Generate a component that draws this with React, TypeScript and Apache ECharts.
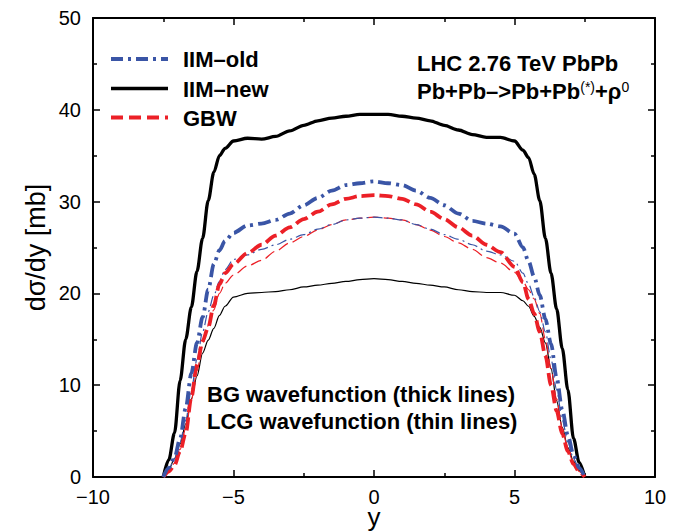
import React, { useEffect, useRef } from "react";
import * as echarts from "echarts";

const X = [-7.5, -7.3, -7.1, -6.9, -6.7, -6.5, -6.3, -6.1, -5.9, -5.7, -5.5, -5.3, -5.0, -4.5, -4.0, -3.5, -3.0, -2.5, -2.0, -1.5, -1.0, -0.5, 0, 0.5, 1.0, 1.5, 2.0, 2.5, 3.0, 3.5, 4.0, 4.5, 5.0, 5.3, 5.5, 5.7, 5.9, 6.1, 6.3, 6.5, 6.7, 6.9, 7.1, 7.3, 7.5];

// thick lines (BG wavefunction)
const iimOldBG = [0, 1.0, 2.1, 4.2, 7.5, 11.3, 14.6, 17.4, 20.4, 23.2, 24.7, 25.7, 26.6, 27.4, 27.6, 28.0, 28.7, 29.6, 30.4, 31.2, 31.8, 32.0, 32.2, 32.0, 31.8, 31.2, 30.4, 29.6, 28.7, 27.9, 27.6, 27.3, 26.5, 25.0, 23.5, 21.8, 19.8, 17.2, 14.5, 10.8, 7.3, 4.5, 2.4, 1.0, 0];
const iimNewBG = [0, 1.9, 4.8, 10.5, 15.0, 18.5, 22.4, 26.0, 30.1, 33.2, 35.0, 35.8, 36.6, 36.9, 36.8, 37.1, 37.7, 38.3, 38.8, 39.1, 39.3, 39.5, 39.5, 39.5, 39.3, 39.1, 38.8, 38.3, 37.8, 37.3, 37.0, 37.0, 36.6, 35.6, 34.8, 33.0, 30.1, 26.0, 22.2, 18.3, 14.0, 9.5, 4.2, 1.6, 0];
const gbwBG = [0, 0.6, 1.3, 2.8, 4.8, 8.7, 12.2, 14.8, 16.3, 18.7, 21.0, 22.2, 23.2, 24.4, 25.3, 26.3, 27.2, 28.1, 28.9, 29.7, 30.3, 30.6, 30.7, 30.6, 30.3, 29.7, 28.9, 28.1, 27.2, 26.3, 25.3, 24.5, 22.9, 21.2, 19.4, 17.8, 15.8, 13.2, 10.0, 7.2, 4.7, 2.8, 1.4, 0.6, 0];

// thin lines (LCG wavefunction)
const iimOldLCG = [0, 0.9, 2.0, 3.8, 6.2, 9.5, 12.8, 15.8, 18.0, 19.8, 21.3, 22.6, 23.7, 24.2, 24.8, 25.3, 25.9, 26.4, 27.0, 27.5, 28.0, 28.2, 28.3, 28.2, 28.0, 27.5, 27.0, 26.4, 25.9, 25.3, 24.6, 24.2, 23.5, 22.2, 21.0, 19.6, 18.0, 15.8, 12.8, 9.5, 6.2, 3.8, 2.0, 0.9, 0];
const iimNewLCG = [0, 0.8, 2.0, 3.6, 5.8, 8.5, 11.0, 13.5, 14.9, 16.2, 17.6, 18.6, 19.6, 20.0, 20.1, 20.2, 20.4, 20.7, 20.9, 21.1, 21.3, 21.5, 21.6, 21.5, 21.3, 21.1, 20.9, 20.7, 20.4, 20.2, 20.1, 20.1, 19.8, 19.2, 18.6, 17.5, 16.3, 14.6, 11.8, 8.3, 5.4, 3.2, 1.7, 0.7, 0];
const gbwLCG = [0, 0.6, 1.5, 3.0, 5.3, 8.4, 11.6, 14.3, 16.5, 18.2, 20.0, 21.1, 22.0, 23.0, 23.6, 24.6, 25.5, 26.2, 26.9, 27.5, 28.0, 28.2, 28.3, 28.2, 28.0, 27.5, 26.9, 26.2, 25.5, 24.8, 23.9, 23.3, 22.3, 21.3, 20.4, 19.4, 17.8, 15.0, 11.8, 8.5, 5.3, 3.0, 1.5, 0.6, 0];

const LEGEND_NAMES = ["IIM\u2013old", "IIM\u2013new", "GBW"];

const X_TICKS = { min: -10, max: 10, interval: 5 };
const Y_TICKS = { min: 0, max: 50, interval: 10 };

const BLUE = "#3a55a6";
const RED = "#ec2027";
const FONT = "'Liberation Sans', Arial, Helvetica, sans-serif";

const pairs = (ys: number[]) => X.map((x, i) => [x, ys[i]]);

export default function App() {
  const ref = useRef<HTMLDivElement>(null);
  useEffect(() => {
    if (!ref.current) return;
    const chart = echarts.init(ref.current, undefined, { renderer: "svg" });
    const fmt = (v: number) => (v < 0 ? "\u2212" + Math.abs(v) : String(v));
    const axisCommon = {
      axisLine: { show: true, onZero: false, lineStyle: { color: "#000", width: 2 } },
      axisTick: { show: true, inside: true, length: 7, lineStyle: { color: "#000", width: 1.5 } },
      minorTick: { show: true, splitNumber: 2, length: 4, lineStyle: { color: "#000", width: 1.5 } },
      splitLine: { show: false },
      minorSplitLine: { show: false },
    };
    const lineSeries = (name: string, ys: number[], color: string, width: number, type: any, z: number) => ({
      name,
      type: "line",
      data: pairs(ys),
      symbol: "none",
      smooth: 0.3,
      smoothMonotone: "x",
      z,
      lineStyle: { color, width, type, cap: "butt" },
      itemStyle: { color },
    });
    const boldText = { fill: "#000", fontSize: 22, fontWeight: "bold", fontFamily: FONT, verticalAlign: "middle", align: "left" };
    const legendItems = [
      { name: LEGEND_NAMES[0], color: BLUE, width: 3.8, dash: [12, 5, 3, 5], y: 59 },
      { name: LEGEND_NAMES[1], color: "#000", width: 3.3, dash: null, y: 88.5 },
      { name: LEGEND_NAMES[2], color: RED, width: 3.8, dash: [12, 6], y: 117.5 },
    ];
    const legendGraphics: any[] = [];
    legendItems.forEach((it) => {
      legendGraphics.push({
        type: "line",
        shape: { x1: 111, y1: it.y, x2: 168, y2: it.y },
        style: { stroke: it.color, lineWidth: it.width, lineDash: it.dash || undefined, lineCap: "butt" },
      });
      legendGraphics.push({
        type: "text",
        x: 183,
        y: it.y + 0.5,
        style: { text: it.name, ...boldText },
      });
    });
    chart.setOption({
      animation: false,
      backgroundColor: "#fff",
      grid: { left: 93, top: 18, width: 562, height: 459, containLabel: false, outerBoundsMode: "none" },
      xAxis: [
        {
          type: "value",
          ...X_TICKS,
          position: "bottom",
          name: "y",
          nameLocation: "middle",
          nameGap: 30,
          nameMoveOverlap: false,
          nameTextStyle: { fontSize: 26, lineHeight: 20, fontFamily: FONT, color: "#000" },
          axisLabel: { fontSize: 20, lineHeight: 18, fontFamily: FONT, color: "#000", margin: 11, formatter: fmt },
          ...axisCommon,
        },
        {
          type: "value",
          ...X_TICKS,
          position: "top",
          axisLabel: { show: false },
          ...axisCommon,
        },
      ],
      yAxis: [
        {
          type: "value",
          ...Y_TICKS,
          position: "left",
          name: "d\u03c3/dy [mb]",
          nameLocation: "middle",
          nameGap: 44,
          nameMoveOverlap: false,
          nameTextStyle: { fontSize: 27, fontFamily: FONT, color: "#000" },
          axisLabel: { fontSize: 20, fontFamily: FONT, color: "#000", margin: 12, formatter: fmt },
          ...axisCommon,
        },
        {
          type: "value",
          ...Y_TICKS,
          position: "right",
          axisLabel: { show: false },
          ...axisCommon,
        },
      ],
      series: [
        lineSeries("IIM-new LCG", iimNewLCG, "#000", 1.2, "solid", 2),
        lineSeries("GBW LCG", gbwLCG, RED, 1.2, [11, 5], 2),
        lineSeries("IIM-old LCG", iimOldLCG, BLUE, 1.2, [10, 4, 2, 4], 2),
        lineSeries(LEGEND_NAMES[1], iimNewBG, "#000", 3.3, "solid", 3),
        lineSeries(LEGEND_NAMES[2], gbwBG, RED, 3.8, [13, 5], 3),
        lineSeries(LEGEND_NAMES[0], iimOldBG, BLUE, 3.8, [13, 5, 3, 5], 3),
      ],
      graphic: [
        ...legendGraphics,
        {
          type: "text",
          x: 417,
          y: 63,
          style: { text: "LHC 2.76 TeV PbPb", ...boldText },
        },
        {
          type: "text",
          x: 417,
          y: 91,
          style: {
            text: "Pb+Pb\u2013>Pb+Pb{s|(*)}+\u03c1{s|0}",
            ...boldText,
            rich: {
              s: { fontSize: 14, fontWeight: "normal", fontFamily: FONT, fill: "#000", verticalAlign: "top", lineHeight: 22 },
            },
          },
        },
        {
          type: "text",
          x: 207,
          y: 394,
          style: { text: "BG wavefunction (thick lines)", ...boldText },
        },
        {
          type: "text",
          x: 207,
          y: 421,
          style: { text: "LCG wavefunction (thin lines)", ...boldText },
        },
      ],
    });
    return () => chart.dispose();
  }, []);
  return <div ref={ref} style={{ position: "fixed", left: 0, top: 0, width: 691, height: 531, background: "#fff" }} />;
}
